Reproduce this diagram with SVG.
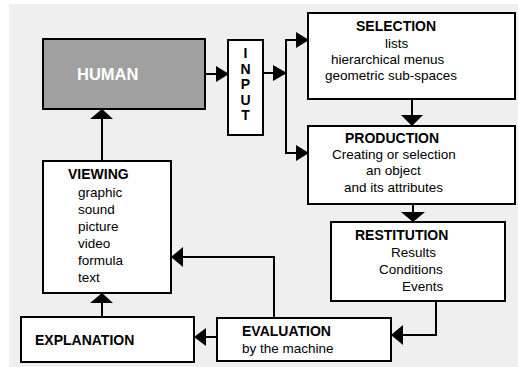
<svg xmlns="http://www.w3.org/2000/svg" width="518" height="367" viewBox="0 0 518 367">
  <style>
    .box { fill: #ffffff; stroke: #000000; stroke-width: 2; }
    .human { fill: #a0a0a0; stroke: #000000; stroke-width: 2; }
    .t { font-family: "Liberation Sans", Arial, sans-serif; font-size: 13.5px; fill: #000000; }
    .b { font-family: "Liberation Sans", Arial, sans-serif; font-size: 14px; font-weight: bold; fill: #000000; }
    .line { fill: none; stroke: #000000; stroke-width: 2; }
    .head { fill: #000000; stroke: none; }
  </style>

  <!-- panel background -->
  <rect x="9" y="4" width="509" height="363" fill="#efefef"/>

  <g id="human">
    <rect class="human" x="43" y="39" width="162" height="70"/>
    <text x="77" y="80" font-family="Liberation Sans, Arial, sans-serif" font-size="16.5" font-weight="bold" fill="#ffffff">HUMAN</text>
  </g>

  <g id="input">
    <rect class="box" x="228" y="40" width="35" height="95"/>
    <text class="b" text-anchor="middle" x="245.5" y="58">I</text>
    <text class="b" text-anchor="middle" x="245.5" y="73.5">N</text>
    <text class="b" text-anchor="middle" x="245.5" y="89">P</text>
    <text class="b" text-anchor="middle" x="245.5" y="104.5">U</text>
    <text class="b" text-anchor="middle" x="245.5" y="120">T</text>
  </g>

  <g id="selection">
    <rect class="box" x="308" y="13" width="207" height="86"/>
    <text class="b" x="356" y="31">SELECTION</text>
    <text class="t" x="385" y="48">lists</text>
    <text class="t" x="331" y="64">hierarchical menus</text>
    <text class="t" x="325" y="80">geometric sub-spaces</text>
  </g>

  <g id="production">
    <rect class="box" x="308" y="126" width="207" height="78"/>
    <text class="b" x="345" y="143">PRODUCTION</text>
    <text class="t" x="332" y="159">Creating or selection</text>
    <text class="t" x="366" y="175">an object</text>
    <text class="t" x="344" y="192">and its attributes</text>
  </g>

  <g id="restitution">
    <rect class="box" x="331" y="222" width="174" height="79"/>
    <text class="b" x="355" y="240">RESTITUTION</text>
    <text class="t" x="391" y="257">Results</text>
    <text class="t" x="379" y="274">Conditions</text>
    <text class="t" x="402" y="291">Events</text>
  </g>

  <g id="evaluation">
    <rect class="box" x="217" y="318" width="174" height="43"/>
    <text class="b" x="242" y="336">EVALUATION</text>
    <text class="t" x="242" y="353">by the machine</text>
  </g>

  <g id="explanation">
    <rect class="box" x="21" y="317" width="173" height="45"/>
    <text class="b" x="35" y="345">EXPLANATION</text>
  </g>

  <g id="viewing">
    <rect class="box" x="43" y="161" width="128" height="132"/>
    <text class="b" x="68" y="179">VIEWING</text>
    <text class="t" x="78" y="197">graphic</text>
    <text class="t" x="78" y="214">sound</text>
    <text class="t" x="78" y="231">picture</text>
    <text class="t" x="78" y="248">video</text>
    <text class="t" x="78" y="265">formula</text>
    <text class="t" x="78" y="282">text</text>
  </g>

  <g id="connectors">
    <!-- human to input -->
    <line class="line" x1="205" y1="74" x2="217" y2="74"/>
    <polygon class="head" points="216,66 229,74 216,82"/>
    <!-- input to the branch -->
    <line class="line" x1="263" y1="73" x2="274" y2="73"/>
    <polygon class="head" points="273,65 287,73 273,81"/>
    <polyline class="line" points="297,40 286,40 286,153 297,153"/>
    <polygon class="head" points="296,32 309,40 296,48"/>
    <polygon class="head" points="296,145 309,153 296,161"/>
    <!-- selection to production -->
    <line class="line" x1="412" y1="99" x2="412" y2="116"/>
    <polygon class="head" points="401,115 423,115 412,126"/>
    <!-- production to restitution -->
    <line class="line" x1="413" y1="204" x2="413" y2="213"/>
    <polygon class="head" points="401,212 425,212 413,222"/>
    <!-- restitution to evaluation -->
    <polyline class="line" points="436,301 436,335 402,335"/>
    <polygon class="head" points="403,325 391,335 403,345"/>
    <!-- evaluation to explanation -->
    <line class="line" x1="217" y1="337" x2="205" y2="337"/>
    <polygon class="head" points="206,328 194,337 206,346"/>
    <!-- evaluation to viewing -->
    <polyline class="line" points="274,318 274,257 182,257"/>
    <polygon class="head" points="183,247 171,257 183,267"/>
    <!-- explanation to viewing -->
    <line class="line" x1="102" y1="317" x2="102" y2="302"/>
    <polygon class="head" points="90,303 113,303 102,293"/>
    <!-- viewing to human -->
    <line class="line" x1="102" y1="161" x2="102" y2="118"/>
    <polygon class="head" points="90,119 113,119 102,109"/>
  </g>
</svg>
